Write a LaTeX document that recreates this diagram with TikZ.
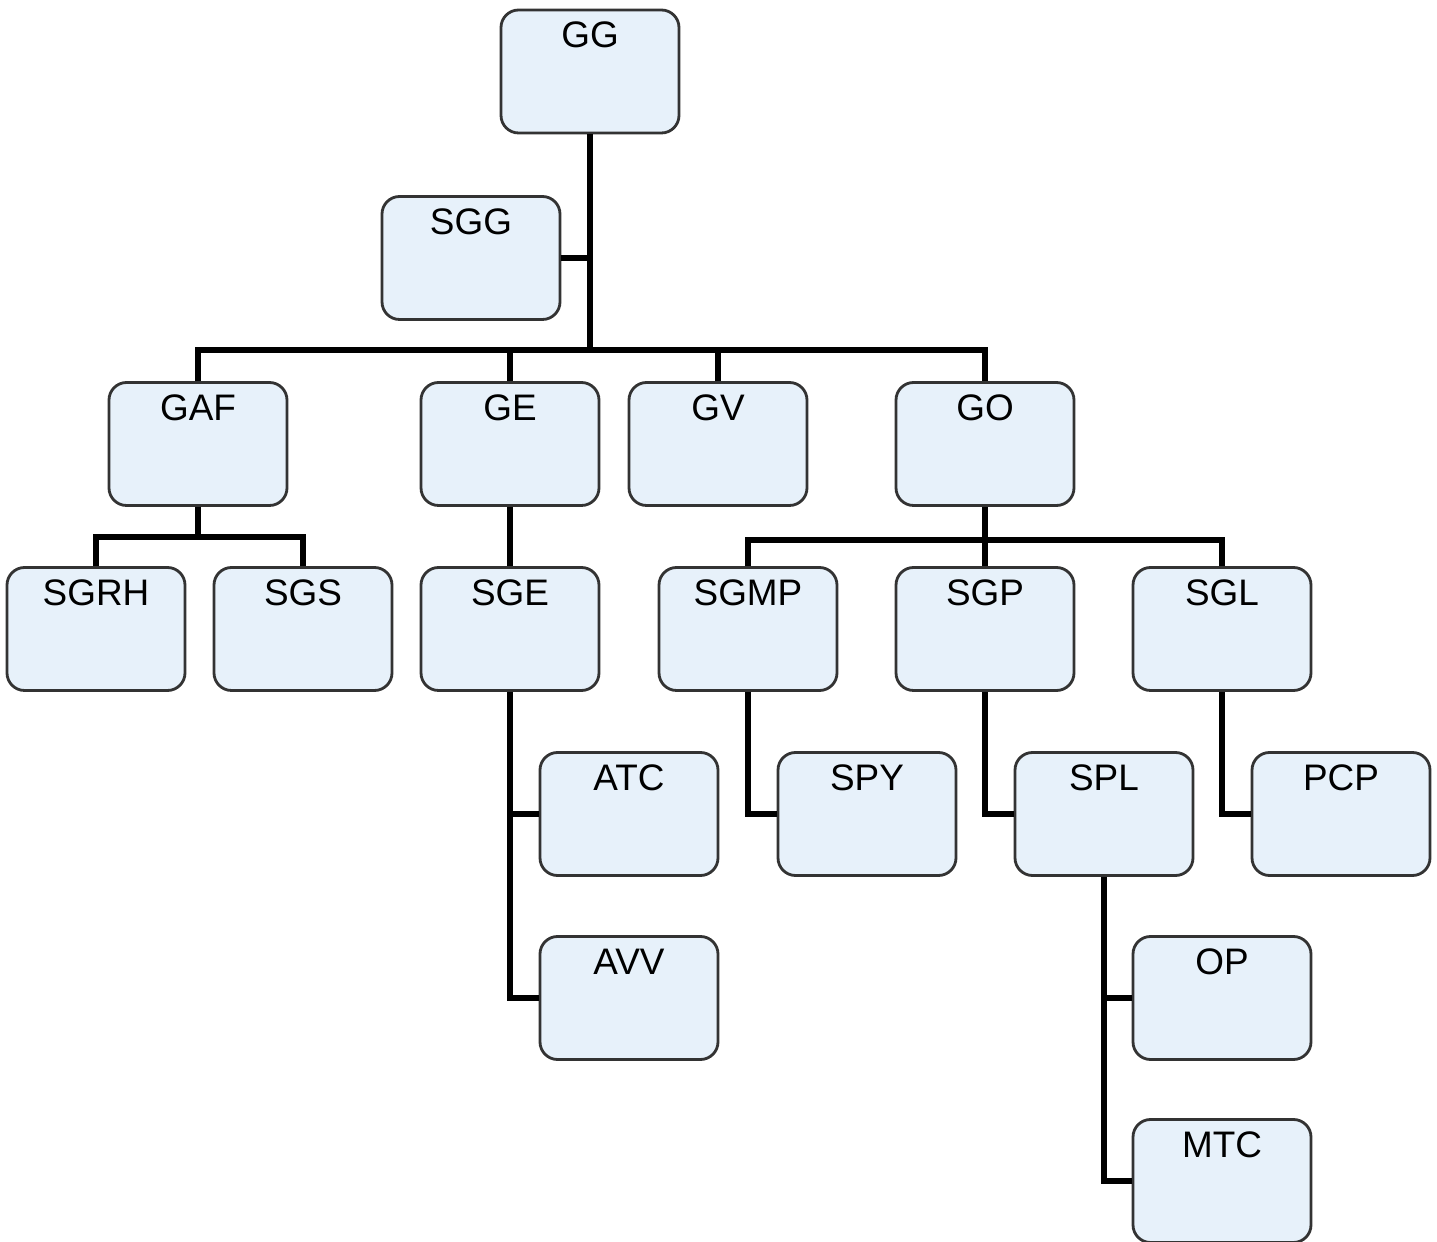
\documentclass[tikz,border=0pt]{standalone}
\usepackage{fontspec}
\setmainfont{Liberation Sans}
\usepackage{xcolor}
\usepackage{tikz}
\usetikzlibrary{positioning,calc}

\definecolor{boxfill}{RGB}{231,241,250}

\begin{document}
\begin{tikzpicture}[
font=\fontsize{10.5}{12}\selectfont,
unit/.style={draw=black!80, line width=0.8pt, fill=boxfill, rounded corners=5pt, minimum width=1.78cm, inner sep=0pt, text height=0.38cm, text depth=0.85cm, align=center},
link/.style={line width=1.6pt, black}
]
\useasboundingbox (0,0) rectangle (14.37,-12.42);

% Bus points
\coordinate (bus) at (5.90,-3.50);
\coordinate (gafbus) at (1.98,-5.37);
\coordinate (gobus) at (9.85,-5.40);

% Top level
\node[unit] (GG)  at (5.90,-0.715) {GG};
\node[unit] (SGG) at (4.71,-2.58)  {SGG};

% Second level
\node[unit] (GAF) at (1.98,-4.44) {GAF};
\node[unit] (GE)  at (5.10,-4.44) {GE};
\node[unit] (GV)  at (7.18,-4.44) {GV};
\node[unit] (GO)  at (9.85,-4.44) {GO};

% Third level
\node[unit] (SGRH) at (0.96,-6.29)  {SGRH};
\node[unit] (SGS)  at (3.03,-6.29)  {SGS};
\node[unit] (SGE)  at (5.10,-6.29)  {SGE};
\node[unit] (SGMP) at (7.48,-6.29)  {SGMP};
\node[unit] (SGP)  at (9.85,-6.29)  {SGP};
\node[unit] (SGL)  at (12.22,-6.29) {SGL};

% Fourth level
\node[unit] (ATC) at (6.29,-8.14)  {ATC};
\node[unit] (AVV) at (6.29,-9.98)  {AVV};
\node[unit] (SPY) at (8.67,-8.14)  {SPY};
\node[unit] (SPL) at (11.04,-8.14) {SPL};
\node[unit] (PCP) at (13.41,-8.14) {PCP};
\node[unit] (OP)  at (12.22,-9.98) {OP};
\node[unit] (MTC) at (12.22,-11.81) {MTC};

% Connectors
\draw[link] (GG.south) -- (GG.south |- bus);
\draw[link] (SGG.east) -- (SGG.east -| GG.south);
\draw[link] (GAF.north) |- (bus) -| (GO.north);
\draw[link] (GE.north) -- (GE.north |- bus);
\draw[link] (GV.north) -- (GV.north |- bus);
\draw[link] (GAF.south) -- (GAF.south |- gafbus);
\draw[link] (SGRH.north) |- (gafbus) -| (SGS.north);
\draw[link] (GE.south) -- (SGE.north);
\draw[link] (GO.south) -- (SGP.north);
\draw[link] (SGMP.north) |- (gobus) -| (SGL.north);
\draw[link] (SGE.south) |- (AVV.west);
\draw[link] (SGE.south |- ATC.west) -- (ATC.west);
\draw[link] (SGMP.south) |- (SPY.west);
\draw[link] (SGP.south) |- (SPL.west);
\draw[link] (SGL.south) |- (PCP.west);
\draw[link] (SPL.south) |- (MTC.west);
\draw[link] (SPL.south |- OP.west) -- (OP.west);

\end{tikzpicture}
\end{document}
